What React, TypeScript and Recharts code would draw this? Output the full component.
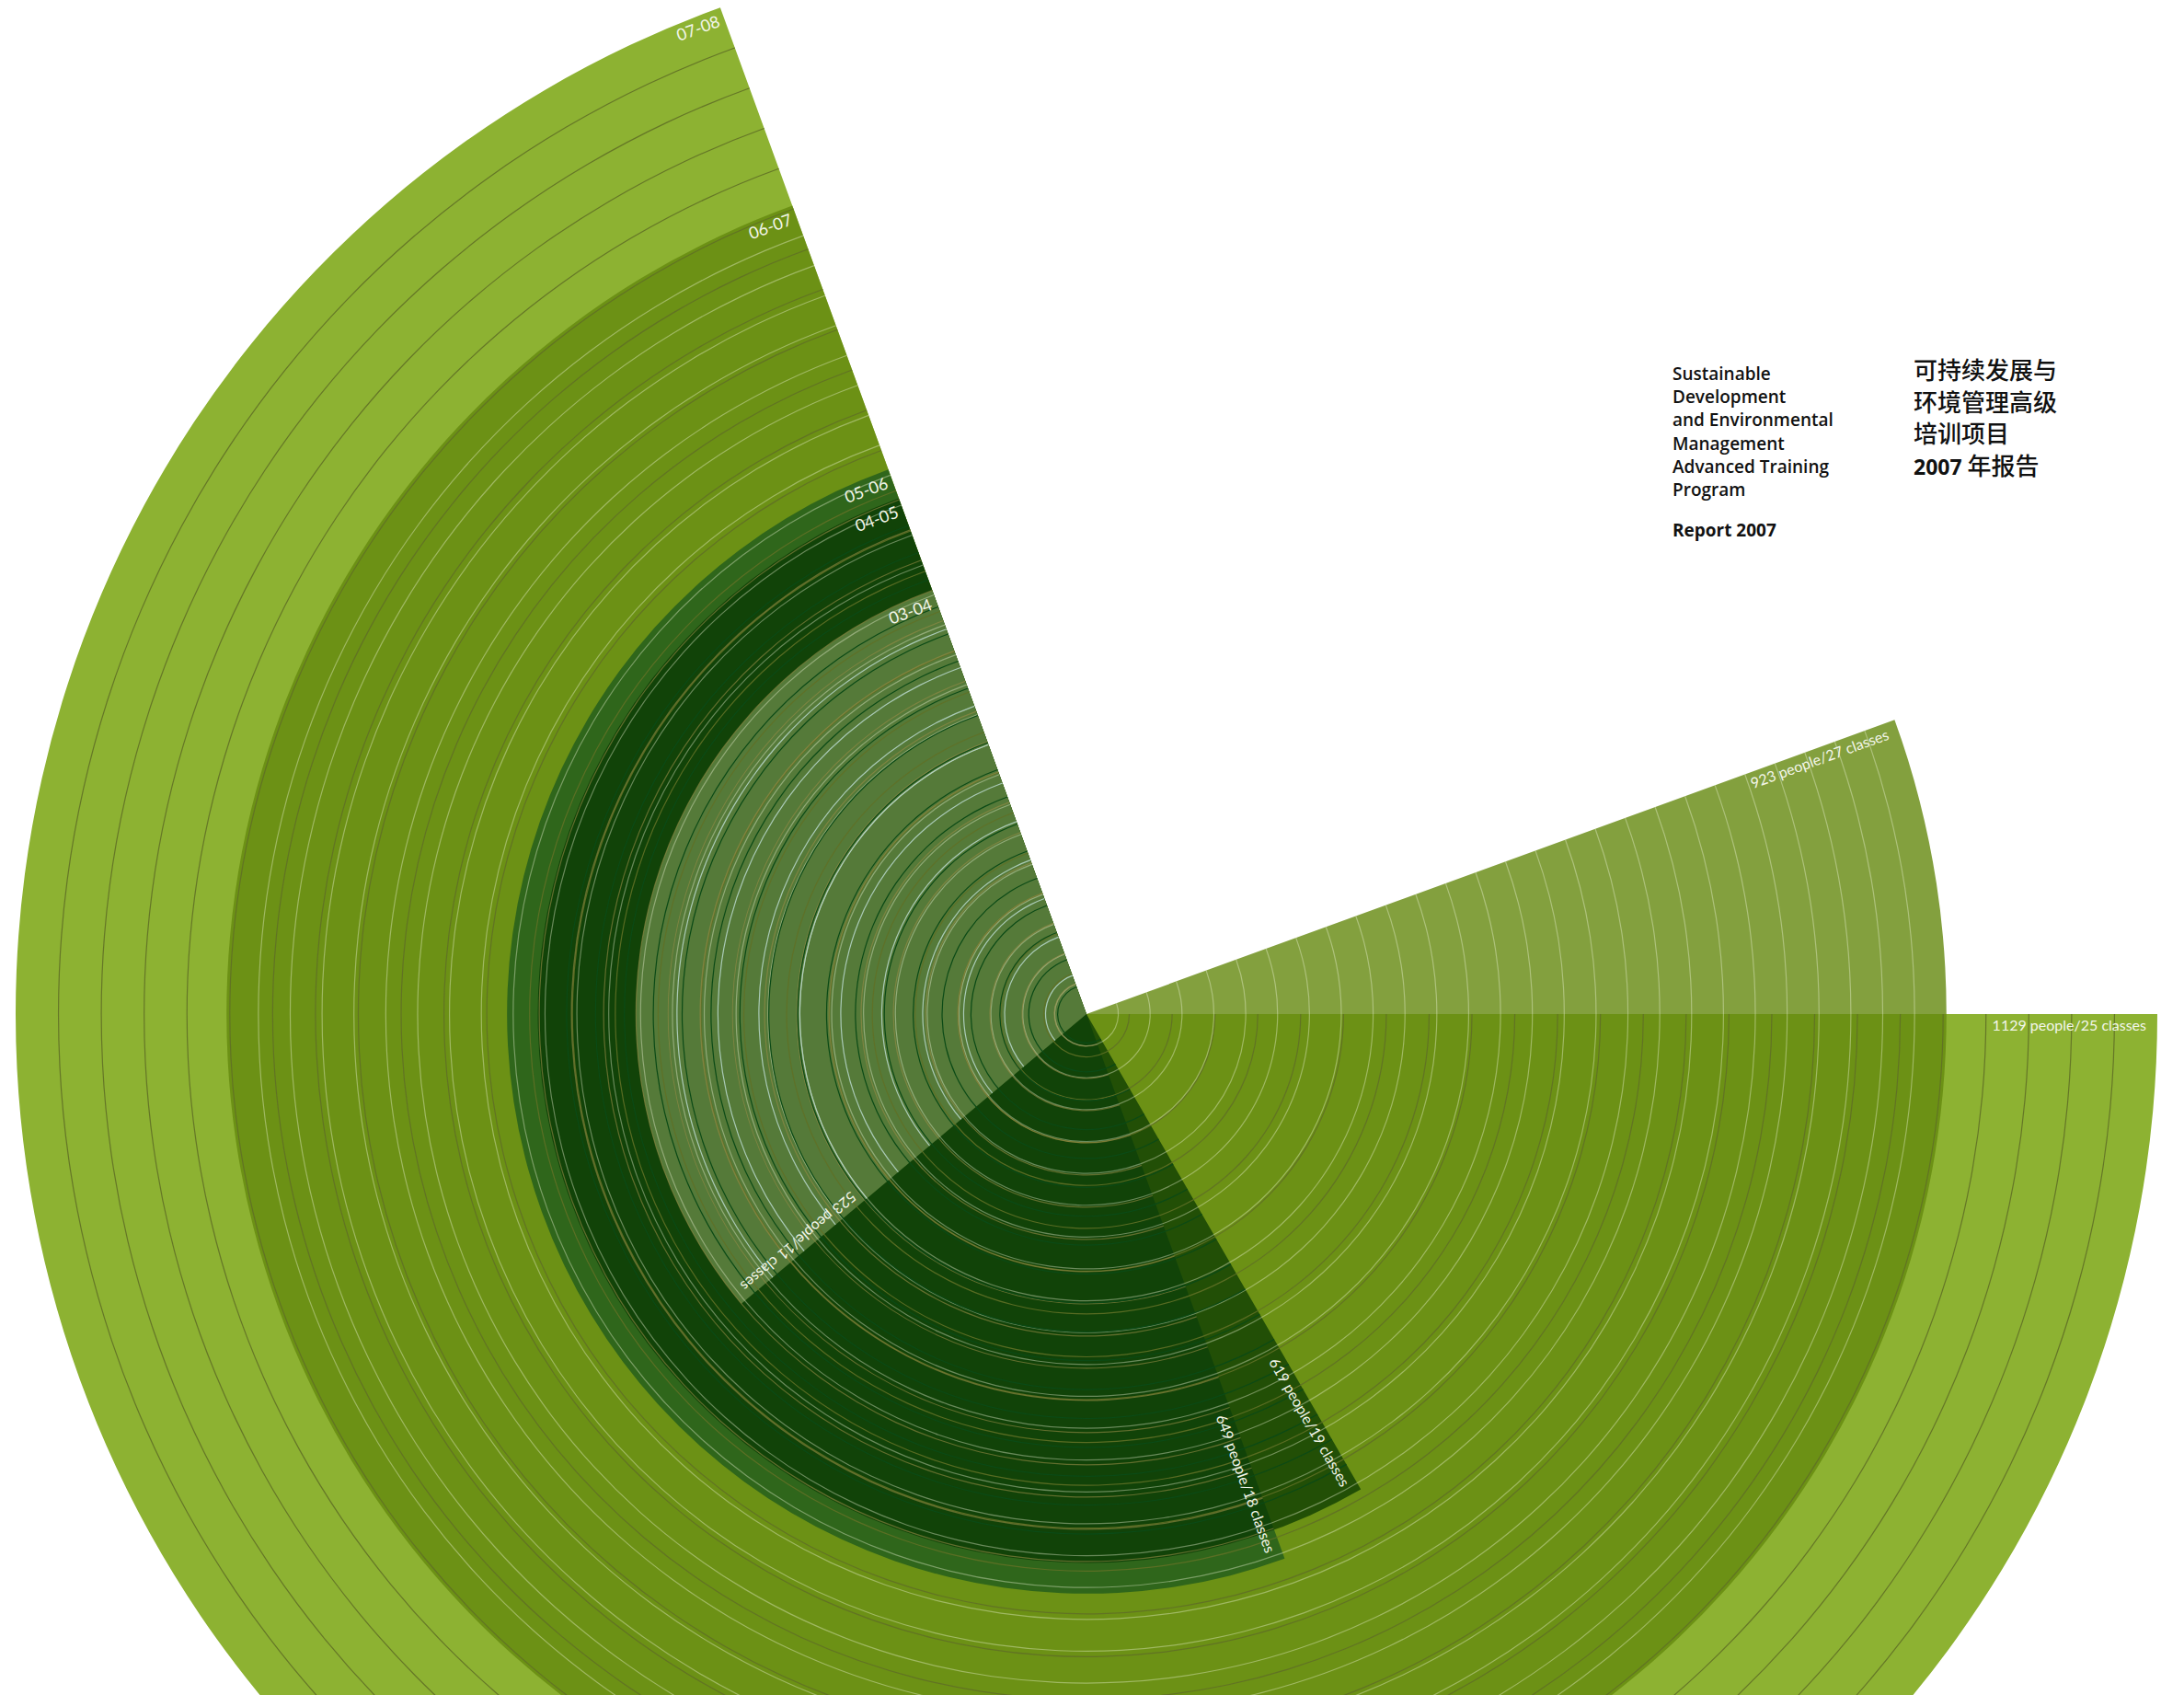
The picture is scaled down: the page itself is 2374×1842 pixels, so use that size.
import React from 'react';
import { PieChart, Pie, Cell } from 'recharts';

// one entry per programme year, innermost sector first
const years = ['03-04', '04-05', '05-06', '06-07', '07-08'];
const people = [523, 619, 649, 923, 1129];
const classes = [11, 19, 18, 27, 25];

const titleEn = ['Sustainable', 'Development', 'and Environmental', 'Management', 'Advanced Training', 'Program'];
const reportEn = 'Report 2007';
const titleZh = ['可持续发展与', '环境管理高级', '培训项目'];
const reportZhYear = '2007';
const reportZh = '年报告';

const fills = ['rgb(97,132,66)', 'rgb(5,54,2)', 'rgb(36,94,28)', 'rgb(100,136,14)', '#8db232'];
const fillOpacity = [0.85, 0.72, 0.85, 0.8, 1];
const ringColors = ['#b8d8cc', '#0b4a16', '#9a8c48', '#eef4d8', '#607026'];
const ringOpacity = [0.85, 1, 0.6, 0.4, 0.9];

const W = 2374;
const H = 1842;
const CX = 1181;
const CY = 1102;
const START = 110;
const SLOTS = 36; // each class takes a 10 degree slot
const RING = 0.6;

// people -> radius in px
const P0 = 83;
const P1 = 1129;
const R1 = 1164;
const rScale = (p: number) => ((p - P0) / (P1 - P0)) * R1;

const pieData = (i: number) => [
  { name: years[i], value: classes[i] },
  { name: 'rest', value: SLOTS - classes[i] },
];

const RAD = Math.PI / 180;
const labelFont = 'Lato, "Open Sans", sans-serif';

const makeLabel = (i: number) => (props: any) => {
  if (props.index !== 0) return <g />;
  const cx = props.cx;
  const cy = props.cy;
  const a0 = props.startAngle;
  const a1 = props.endAngle;
  const R = props.outerRadius;
  const pt = (r: number, a: number) => [cx + r * Math.cos(a * RAD), cy - r * Math.sin(a * RAD)];

  // year label: tangent to the outer arc, just past the start edge
  const [s0x, s0y] = pt(R - 5, a0);
  const sx = s0x - 6 * Math.sin(a0 * RAD);
  const sy = s0y - 6 * Math.cos(a0 * RAD);

  // totals label: along the closing edge, reading outward
  const [e0x, e0y] = pt(R - 12, a1);
  const ex = e0x + 5 * Math.sin(a1 * RAD);
  const ey = e0y + 5 * Math.cos(a1 * RAD);

  return (
    <g>
      <text
        x={sx}
        y={sy}
        transform={`rotate(${90 - a0} ${sx} ${sy})`}
        textAnchor="end"
        dominantBaseline="hanging"
        fill="#f3f6ea"
        fontFamily={labelFont}
        fontSize={18}
      >
        {years[i]}
      </text>
      <text
        x={ex}
        y={ey}
        transform={`rotate(${-a1} ${ex} ${ey})`}
        textAnchor="end"
        dominantBaseline="hanging"
        fill="#f3f6ea"
        fontFamily={labelFont}
        fontSize={16}
      >
        {`${people[i]} people/${classes[i]} classes`}
      </text>
    </g>
  );
};

const order = [4, 3, 2, 1, 0];

export default function App() {
  const fillPies = order.map((i) => (
    <Pie
      key={`fill-${i}`}
      data={pieData(i)}
      dataKey="value"
      cx={CX}
      cy={CY}
      startAngle={START}
      endAngle={START + 360}
      innerRadius={0}
      outerRadius={rScale(people[i])}
      stroke="none"
      isAnimationActive={false}
    >
      <Cell fill={fills[i]} fillOpacity={fillOpacity[i]} />
      <Cell fill="none" />
    </Pie>
  ));

  const ringPies: React.ReactNode[] = [];
  order.forEach((i) => {
    const R = rScale(people[i]);
    for (let k = 1; k < classes[i]; k++) {
      const r = (R * k) / classes[i];
      ringPies.push(
        <Pie
          key={`ring-${i}-${k}`}
          data={pieData(i)}
          dataKey="value"
          cx={CX}
          cy={CY}
          startAngle={START}
          endAngle={START + 360}
          innerRadius={r - RING}
          outerRadius={r + RING}
          stroke="none"
          isAnimationActive={false}
        >
          <Cell fill={ringColors[i]} fillOpacity={ringOpacity[i]} />
          <Cell fill="none" />
        </Pie>
      );
    }
  });

  const labelPies = order.map((i) => (
    <Pie
      key={`label-${i}`}
      data={pieData(i)}
      dataKey="value"
      cx={CX}
      cy={CY}
      startAngle={START}
      endAngle={START + 360}
      innerRadius={0}
      outerRadius={rScale(people[i])}
      stroke="none"
      fill="none"
      label={makeLabel(i)}
      labelLine={false}
      isAnimationActive={false}
    >
      <Cell fill="none" />
      <Cell fill="none" />
    </Pie>
  ));

  return (
    <div style={{ position: 'absolute', left: 0, top: 0, width: W, height: H, overflow: 'hidden', background: '#fff' }}>
      <PieChart width={W} height={H} margin={{ top: 0, right: 0, bottom: 0, left: 0 }}>
        {fillPies}
        {ringPies}
        {labelPies}
      </PieChart>
      <svg width={W} height={H} style={{ position: 'absolute', left: 0, top: 0, pointerEvents: 'none' }}>
        <g fontFamily='"Open Sans", sans-serif' fontWeight={600} fontSize={19} fill="#111">
          {titleEn.map((t, k) => (
            <text key={t} x={1818} y={413 + k * 25.2}>
              {t}
            </text>
          ))}
          <text x={1818} y={583} fontWeight={700}>
            {reportEn}
          </text>
        </g>
        <g fontFamily='"Noto Sans CJK SC", sans-serif' fontWeight={500} fontSize={26} fill="#111">
          {titleZh.map((t, k) => (
            <text key={t} x={2080} y={412 + k * 34.6}>
              {t}
            </text>
          ))}
          <text x={2080} y={412 + 3 * 34.6}>
            <tspan fontFamily='"Open Sans", sans-serif' fontWeight={700} fontSize={23}>
              {reportZhYear}
            </tspan>
            <tspan> {reportZh}</tspan>
          </text>
        </g>
      </svg>
    </div>
  );
}
